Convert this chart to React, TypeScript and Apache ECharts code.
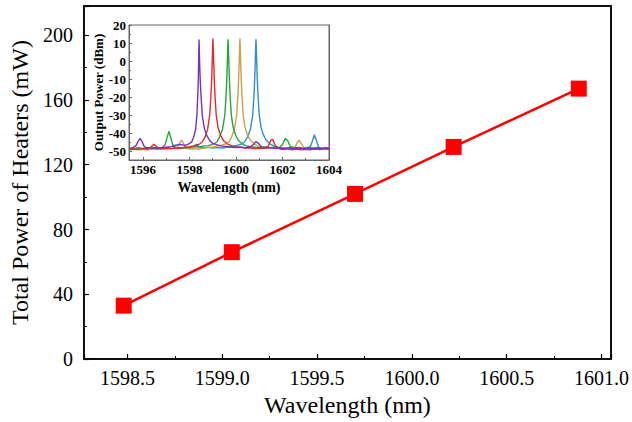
import React, { useEffect, useRef } from "react";
import * as echarts from "echarts";

// Main chart data
const wavelengths = [1598.48, 1599.05, 1599.7, 1600.22, 1600.88];
const heaterPower = [33, 66, 102, 131, 167];

// Inset spectra: [wavelength (nm), output power (dBm)]
const specPurple: number[][] = [
  [1595.4,-48.8],[1595.55,-48.3],[1595.7,-47],[1595.8,-44.5],[1595.88,-43],[1595.96,-44.8],[1596.06,-47.6],[1596.2,-48.4],[1596.4,-48.1],[1596.6,-48.6],[1596.8,-48.2],[1597.0,-47.9],[1597.2,-47.6],[1597.4,-46.8],[1597.6,-46.4],[1597.8,-46.9],[1597.95,-46.2],[1598.09,-45.1],[1598.19,-42],[1598.27,-37.5],[1598.32,-30],[1598.355,-20],[1598.38,-10],[1598.395,0],[1598.405,8],[1598.41,12],[1598.42,8],[1598.435,0],[1598.46,-10],[1598.5,-20],[1598.55,-30],[1598.63,-37],[1598.73,-41],[1598.86,-44],[1599.0,-45.8],[1599.2,-46.6],[1599.4,-47.3],[1599.6,-47.5],[1599.8,-47.9],[1600.0,-48.1],[1600.2,-47.8],[1600.4,-48.2],[1600.6,-47.8],[1600.75,-46.5],[1600.85,-44.8],[1600.95,-45.6],[1601.1,-47.8],[1601.3,-48.4],[1601.5,-48.1],[1601.7,-48.6],[1601.9,-48.3],[1602.1,-48.7],[1602.3,-48.2],[1602.5,-48.6],[1602.7,-48.4],[1602.9,-48.8],[1603.1,-48.3],[1603.3,-48.7],[1603.5,-48.4],[1603.7,-48.8],[1603.85,-48.3],[1604.0,-48.6]
];
const specRed: number[][] = [
  [1595.4,-49.2],[1595.6,-48.8],[1595.8,-49.1],[1596.0,-48.7],[1596.2,-48.9],[1596.35,-47.8],[1596.47,-46.2],[1596.58,-47.5],[1596.75,-48.8],[1597.0,-48.4],[1597.2,-48.7],[1597.4,-48.3],[1597.6,-48.5],[1597.8,-47.9],[1598.0,-47.6],[1598.2,-47.2],[1598.4,-46.4],[1598.55,-45],[1598.68,-42],[1598.78,-38],[1598.87,-30],[1598.92,-20],[1598.955,-10],[1598.98,0],[1598.998,8],[1599.01,12.5],[1599.022,8],[1599.04,0],[1599.065,-10],[1599.1,-20],[1599.15,-30],[1599.23,-37],[1599.33,-41],[1599.46,-44.2],[1599.62,-46],[1599.8,-47],[1600.0,-47.6],[1600.2,-48],[1600.4,-48.4],[1600.6,-48.2],[1600.8,-48.6],[1601.0,-48.3],[1601.2,-48.5],[1601.38,-47.5],[1601.5,-44],[1601.58,-43.5],[1601.68,-46.8],[1601.85,-48.6],[1602.0,-49.2],[1602.2,-48.8],[1602.4,-49.3],[1602.6,-48.9],[1602.8,-49.4],[1603.0,-49],[1603.2,-49.3],[1603.4,-48.9],[1603.6,-49.2],[1603.8,-48.8],[1604.0,-49.1]
];
const specGreen: number[][] = [
  [1595.4,-48.3],[1595.6,-48.7],[1595.8,-48.2],[1596.0,-48.6],[1596.2,-48.1],[1596.4,-48.5],[1596.6,-48],[1596.8,-48.3],[1596.95,-46.5],[1597.05,-42],[1597.12,-39],[1597.19,-42.5],[1597.3,-47.2],[1597.45,-48.4],[1597.6,-48.1],[1597.8,-48.3],[1598.0,-47.9],[1598.2,-47.5],[1598.4,-47.8],[1598.6,-47.3],[1598.8,-47],[1599.0,-46.3],[1599.18,-45],[1599.3,-42],[1599.42,-38],[1599.52,-30],[1599.57,-20],[1599.605,-10],[1599.63,0],[1599.648,8],[1599.66,12],[1599.672,8],[1599.69,0],[1599.715,-10],[1599.75,-20],[1599.8,-30],[1599.88,-37],[1599.98,-41],[1600.1,-44],[1600.26,-46],[1600.45,-47.2],[1600.65,-47.6],[1600.85,-47.9],[1601.05,-48.1],[1601.25,-47.8],[1601.45,-48.2],[1601.65,-48],[1601.85,-48.3],[1602.0,-46.4],[1602.12,-43],[1602.22,-44.2],[1602.33,-47.4],[1602.5,-48.3],[1602.7,-48.0],[1602.9,-48.4],[1603.1,-48.1],[1603.3,-48.5],[1603.5,-48.2],[1603.7,-48.6],[1603.85,-48.1],[1604.0,-48.4]
];
const specGold: number[][] = [
  [1595.4,-49.3],[1595.6,-49],[1595.8,-49.4],[1596.0,-49.1],[1596.2,-49.3],[1596.4,-48.9],[1596.6,-49.2],[1596.8,-48.8],[1597.0,-49],[1597.2,-48.7],[1597.45,-48.2],[1597.58,-45.5],[1597.66,-44],[1597.74,-45.8],[1597.86,-48.5],[1598.0,-48.9],[1598.2,-48.6],[1598.4,-49],[1598.6,-48.4],[1598.8,-48],[1599.0,-47.8],[1599.2,-47.2],[1599.4,-46.8],[1599.55,-46],[1599.7,-45],[1599.82,-42],[1599.93,-38],[1600.03,-30],[1600.08,-20],[1600.115,-10],[1600.14,0],[1600.158,8],[1600.17,12.5],[1600.182,8],[1600.2,0],[1600.225,-10],[1600.26,-20],[1600.31,-30],[1600.39,-37],[1600.49,-41],[1600.62,-44],[1600.78,-46],[1600.95,-47.3],[1601.15,-47.9],[1601.35,-48.3],[1601.55,-48.1],[1601.75,-48.5],[1601.95,-48.2],[1602.15,-48.6],[1602.35,-48.3],[1602.55,-47.6],[1602.65,-45],[1602.72,-44],[1602.8,-45.6],[1602.92,-48.2],[1603.1,-48.6],[1603.3,-48.3],[1603.5,-48.7],[1603.7,-48.4],[1603.85,-48.8],[1604.0,-48.5]
];
const specBlue: number[][] = [
  [1595.4,-48.5],[1595.6,-48.9],[1595.8,-48.4],[1596.0,-48.8],[1596.2,-48.3],[1596.4,-48.7],[1596.6,-48.2],[1596.8,-48.6],[1597.0,-48.3],[1597.2,-48.7],[1597.4,-48.1],[1597.6,-48.5],[1597.8,-48.0],[1598.0,-48.4],[1598.15,-47.6],[1598.3,-46.3],[1598.42,-47.8],[1598.6,-48.3],[1598.8,-48.0],[1599.0,-48.4],[1599.2,-48.1],[1599.4,-48.3],[1599.6,-47.9],[1599.8,-47.5],[1600.0,-47],[1600.2,-46.3],[1600.37,-45],[1600.5,-42],[1600.62,-38],[1600.72,-30],[1600.77,-20],[1600.805,-10],[1600.83,0],[1600.848,8],[1600.86,12],[1600.872,8],[1600.89,0],[1600.915,-10],[1600.95,-20],[1601.0,-30],[1601.08,-37],[1601.18,-41],[1601.3,-44],[1601.46,-46],[1601.65,-47.4],[1601.85,-48],[1602.05,-48.3],[1602.25,-48.1],[1602.45,-48.5],[1602.65,-48.2],[1602.85,-48.6],[1603.05,-48.3],[1603.2,-47.5],[1603.3,-44],[1603.37,-41],[1603.44,-43.5],[1603.55,-47.8],[1603.7,-48.6],[1603.85,-48.2],[1604.0,-48.7]
];

const SERIF = "'Liberation Serif', 'Times New Roman', serif";

export default function App() {
  const ref = useRef<HTMLDivElement>(null);
  useEffect(() => {
    if (!ref.current) return;
    const chart = echarts.init(ref.current, null, { renderer: "svg" });
    const insetLine = (data: number[][], color: string) => ({
      type: "line",
      xAxisIndex: 1,
      yAxisIndex: 1,
      data,
      showSymbol: false,
      symbol: "none",
      lineStyle: { color, width: 1.4 },
      z: 5,
    });
    const frameAxis = (gridIndex: number, position: string, color: string, width: number, min: number, max: number) => ({
      type: "value",
      gridIndex,
      position,
      min,
      max,
      axisLine: { show: true, onZero: false, lineStyle: { color, width } },
      axisTick: { show: false },
      axisLabel: { show: false },
      splitLine: { show: false },
    });
    chart.setOption({
      animation: false,
      backgroundColor: "#fff",
      grid: [
        { left: 82, top: 6, width: 534, height: 354, show: true, borderColor: "#000", borderWidth: 1.5, backgroundColor: "transparent" },
        { left: 129, top: 25, width: 200, height: 135, show: true, borderColor: "#666", borderWidth: 1, backgroundColor: "#fff", z: 3 },
      ],
      xAxis: [
        {
          type: "value",
          gridIndex: 0,
          min: 1598.27,
          max: 1601.05,
          splitNumber: 5,
          name: "Wavelength (nm)",
          nameLocation: "middle",
          nameGap: 27,
          nameTextStyle: { fontFamily: SERIF, fontSize: 24, color: "#000" },
          axisLine: { onZero: false, lineStyle: { color: "#000", width: 1.5 } },
          axisTick: { inside: true, length: 5, lineStyle: { color: "#000", width: 1.2 } },
          minorTick: { show: true, splitNumber: 2, length: 3, lineStyle: { color: "#000", width: 1 } },
          splitLine: { show: false },
          axisLabel: {
            fontFamily: SERIF, fontSize: 20, color: "#000", margin: 9,
            showMinLabel: false, showMaxLabel: false,
            formatter: (v: number) => v.toFixed(1),
          },
        },
        {
          type: "value",
          gridIndex: 1,
          min: 1595.4,
          max: 1604,
          splitNumber: 4,
          name: "Wavelength (nm)",
          nameLocation: "middle",
          nameGap: 20,
          nameTextStyle: { fontFamily: SERIF, fontSize: 14, fontWeight: "bold", color: "#000" },
          axisLine: { onZero: false, lineStyle: { color: "#666", width: 1 } },
          axisTick: { inside: true, length: 3, lineStyle: { color: "#666" } },
          minorTick: { show: true, splitNumber: 2, length: 2, lineStyle: { color: "#666" } },
          splitLine: { show: false },
          axisLabel: {
            fontFamily: SERIF, fontSize: 13, fontWeight: "bold", color: "#000", margin: 3, showMinLabel: false,
            formatter: (v: number) => String(v),
          },
          z: 6,
        },
        frameAxis(0, "top", "#000", 1.5, 1598.27, 1601.05),
        frameAxis(1, "top", "#666", 1, 1595.4, 1604),
      ],
      yAxis: [
        {
          type: "value",
          gridIndex: 0,
          min: 0,
          max: 218,
          interval: 40,
          name: "Total Power of Heaters (mW)",
          nameLocation: "middle",
          nameGap: 30,
          nameTextStyle: { fontFamily: SERIF, fontSize: 24, color: "#000" },
          axisLine: { onZero: false, lineStyle: { color: "#000", width: 1.5 } },
          axisTick: { inside: true, length: 5, lineStyle: { color: "#000", width: 1.2 } },
          minorTick: { show: true, splitNumber: 2, length: 3, lineStyle: { color: "#000", width: 1 } },
          splitLine: { show: false },
          axisLabel: { fontFamily: SERIF, fontSize: 20, color: "#000", margin: 11, showMaxLabel: false },
        },
        {
          type: "value",
          gridIndex: 1,
          min: -55,
          max: 20,
          splitNumber: 7,
          name: "Output Power (dBm)",
          nameLocation: "middle",
          nameGap: 22,
          nameTextStyle: { fontFamily: SERIF, fontSize: 13, fontWeight: "bold", color: "#000" },
          axisLine: { onZero: false, lineStyle: { color: "#666", width: 1 } },
          axisTick: { inside: true, length: 3, lineStyle: { color: "#666" } },
          minorTick: { show: true, splitNumber: 2, length: 2, lineStyle: { color: "#666" } },
          splitLine: { show: false },
          axisLabel: { fontFamily: SERIF, fontSize: 13, fontWeight: "bold", color: "#000", margin: 3, showMinLabel: false },
          z: 6,
        },
        frameAxis(0, "right", "#000", 1.5, 0, 218),
        frameAxis(1, "right", "#666", 1, -55, 20),
      ],
      series: [
        {
          type: "line",
          xAxisIndex: 0,
          yAxisIndex: 0,
          data: wavelengths.map((w, i) => [w, heaterPower[i]]),
          symbol: "rect",
          symbolSize: 16,
          itemStyle: { color: "#ff0000" },
          lineStyle: { color: "#ff0000", width: 2.5 },
          z: 2,
        },
        insetLine(specBlue, "#2e8fd0"),
        insetLine(specGold, "#c9a24a"),
        insetLine(specGreen, "#22a83a"),
        insetLine(specRed, "#e8262b"),
        insetLine(specPurple, "#7a2fc0"),
      ],
    });
    return () => chart.dispose();
  }, []);
  return <div ref={ref} style={{ position: "absolute", left: 0, top: 0, width: 632, height: 422 }} />;
}
